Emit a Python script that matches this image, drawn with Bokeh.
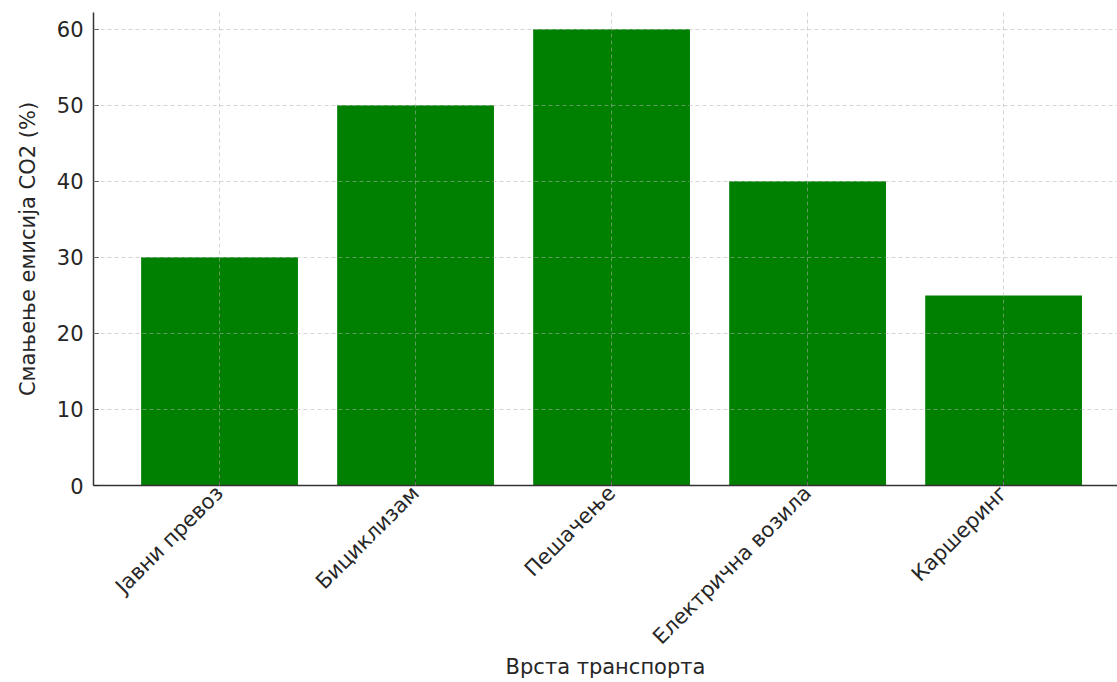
import math
from bokeh.plotting import figure
from bokeh.models import Range1d, FixedTicker
from bokeh.embed import file_html
from bokeh.resources import INLINE

categories = ["Јавни превоз", "Бициклизам", "Пешачење", "Електрична возила", "Каршеринг"]
values = [30, 50, 60, 40, 25]
y_ticks = [0, 10, 20, 30, 40, 50, 60]

xs = list(range(len(categories)))

p = figure(width=1117, height=682, output_backend="svg", toolbar_location=None,
           x_range=Range1d(-0.643, 4.581), y_range=Range1d(0, 62.2),
           min_border_left=93, min_border_right=0, min_border_top=12, min_border_bottom=197)
p.outline_line_color = None

p.vbar(x=xs, top=values, width=0.8, color="#008000", line_color=None)

FONT = "DejaVu Sans"
for ax in (p.xaxis[0], p.yaxis[0]):
    ax.axis_line_color = "#333333"
    ax.axis_line_width = 1.5
    ax.major_tick_in = 5
    ax.major_tick_out = 0
    ax.major_tick_line_color = "#222222"
    ax.minor_tick_line_color = None
    ax.major_label_text_font = FONT
    ax.major_label_text_font_size = "21px"
    ax.major_label_text_color = "#262626"
    ax.axis_label_text_font = FONT
    ax.axis_label_text_font_style = "normal"
    ax.axis_label_text_color = "#262626"

p.xaxis.ticker = FixedTicker(ticks=xs)
p.xaxis.major_label_overrides = {i: c for i, c in enumerate(categories)}
p.xaxis.major_label_orientation = math.pi / 4
p.xaxis.major_label_standoff = 4
p.xaxis.axis_label = "Врста транспорта"
p.xaxis.axis_label_text_font_size = "21px"
p.xaxis.axis_label_standoff = -5

p.yaxis.ticker = FixedTicker(ticks=y_ticks)
p.yaxis.major_label_standoff = 10
p.yaxis.axis_label = "Смањење емисија CO2 (%)"
p.yaxis.axis_label_text_font_size = "21px"
p.yaxis.axis_label_standoff = 14

for g in (p.xgrid[0], p.ygrid[0]):
    g.grid_line_color = "#b0b0b0"
    g.grid_line_alpha = 0.55
    g.grid_line_dash = "4 3"
    g.grid_line_width = 1
    g.level = "overlay"

open("out.html", "w").write(file_html(p, INLINE))
